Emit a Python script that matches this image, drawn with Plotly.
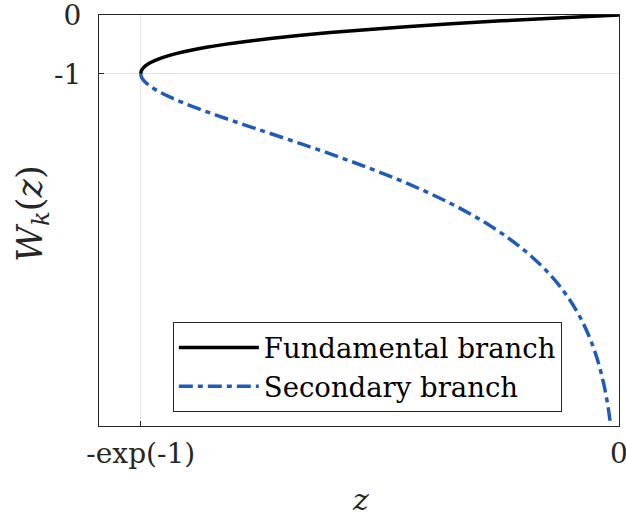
import plotly.graph_objects as go

# Fundamental branch W_0(z): (z, W) pairs
fund_w = [0.0, -0.05, -0.1, -0.15, -0.2, -0.25, -0.3, -0.35, -0.4, -0.45, -0.5,
          -0.55, -0.6, -0.65, -0.7, -0.75, -0.8, -0.85, -0.9, -0.95, -1.0]
fund_z = [0.0, -0.04756, -0.09048, -0.12911, -0.16375, -0.19470, -0.22225, -0.24664,
          -0.26813, -0.28693, -0.30327, -0.31732, -0.32929, -0.33933, -0.34761,
          -0.35428, -0.35946, -0.36330, -0.36591, -0.36740, -0.36788]

# Secondary branch W_{-1}(z)
sec_w = [-1.0, -1.05, -1.1, -1.2, -1.3, -1.4, -1.5, -1.6, -1.7, -1.8, -1.9, -2.0,
         -2.2, -2.4, -2.6, -2.8, -3.0, -3.2, -3.4, -3.6, -3.8, -4.0, -4.25, -4.5,
         -4.75, -5.0, -5.25, -5.5, -5.75, -6.0, -6.25, -6.5, -6.75, -7.0]
sec_z = [-0.36788, -0.36744, -0.36616, -0.36143, -0.35429, -0.34524, -0.33470,
         -0.32304, -0.31056, -0.29754, -0.28418, -0.27067, -0.24377, -0.21772,
         -0.19311, -0.17027, -0.14936, -0.13044, -0.11347, -0.09837, -0.08501,
         -0.07326, -0.06062, -0.04999, -0.04110, -0.03369, -0.02755, -0.02248,
         -0.01830, -0.01487, -0.01207, -0.00977, -0.00790, -0.00638]

x_tickvals = [-0.367879, 0]
x_ticktext = ["-exp(-1)", "0"]
y_tickvals = [-1, 0]
y_ticktext = ["-1", "0"]

FONT = "DejaVu Serif"
AXC = "#262626"

fig = go.Figure()
fig.add_trace(go.Scatter(x=fund_z, y=fund_w, mode="lines", name="Fundamental branch",
                         line=dict(color="black", width=3.5, shape="spline")))
fig.add_trace(go.Scatter(x=sec_z, y=sec_w, mode="lines", name="Secondary branch",
                         line=dict(color="#1f5cb8", width=3.5, shape="spline",
                                   dash="14px,5px,5px,5px")))

fig.update_layout(
    width=626, height=518,
    margin=dict(l=99, r=7, t=15, b=92, autoexpand=False),
    paper_bgcolor="white", plot_bgcolor="white",
    font=dict(family=FONT, size=27, color=AXC),
    showlegend=True,
    legend=dict(x=0.142, y=0.253, xanchor="left", yanchor="top",
                bgcolor="white", bordercolor=AXC, borderwidth=1,
                font=dict(family=FONT, size=27.5, color="black"),
                tracegroupgap=0, itemwidth=80),
    xaxis=dict(range=[-0.4, 0], tickvals=x_tickvals, ticktext=x_ticktext,
               automargin=False, ticklabeloverflow="allow",
               showgrid=True, gridcolor="#e3e3e3", gridwidth=1,
               zeroline=False, showline=True, linecolor=AXC, linewidth=1, mirror=True,
               ticks="inside", ticklen=5, tickcolor=AXC, ticklabelstandoff=2,
               tickfont=dict(family=FONT, size=28, color=AXC)),
    yaxis=dict(range=[-7, 0], tickvals=y_tickvals, ticktext=y_ticktext,
               automargin=False, ticklabeloverflow="allow",
               showgrid=True, gridcolor="#e3e3e3", gridwidth=1,
               zeroline=False, showline=True, linecolor=AXC, linewidth=1, mirror=True,
               ticks="inside", ticklen=5, tickcolor=AXC, ticklabelstandoff=11,
               tickfont=dict(family=FONT, size=28, color=AXC)),
    annotations=[
        dict(text="<i>z</i>", xref="paper", yref="paper", x=0.502, y=-0.18,
             xanchor="center", yanchor="middle", showarrow=False,
             font=dict(family=FONT, size=30, color=AXC)),
        dict(text="<i>W</i><sub><i>k</i></sub>(<i>z</i>)", xref="paper", yref="paper",
             x=-0.129, y=0.518, xanchor="center", yanchor="middle", showarrow=False,
             textangle=-90, font=dict(family=FONT, size=35, color=AXC)),
    ],
)

fig.write_html("out.html", config={"displayModeBar": False},
               post_script="document.body.style.margin='0';")
